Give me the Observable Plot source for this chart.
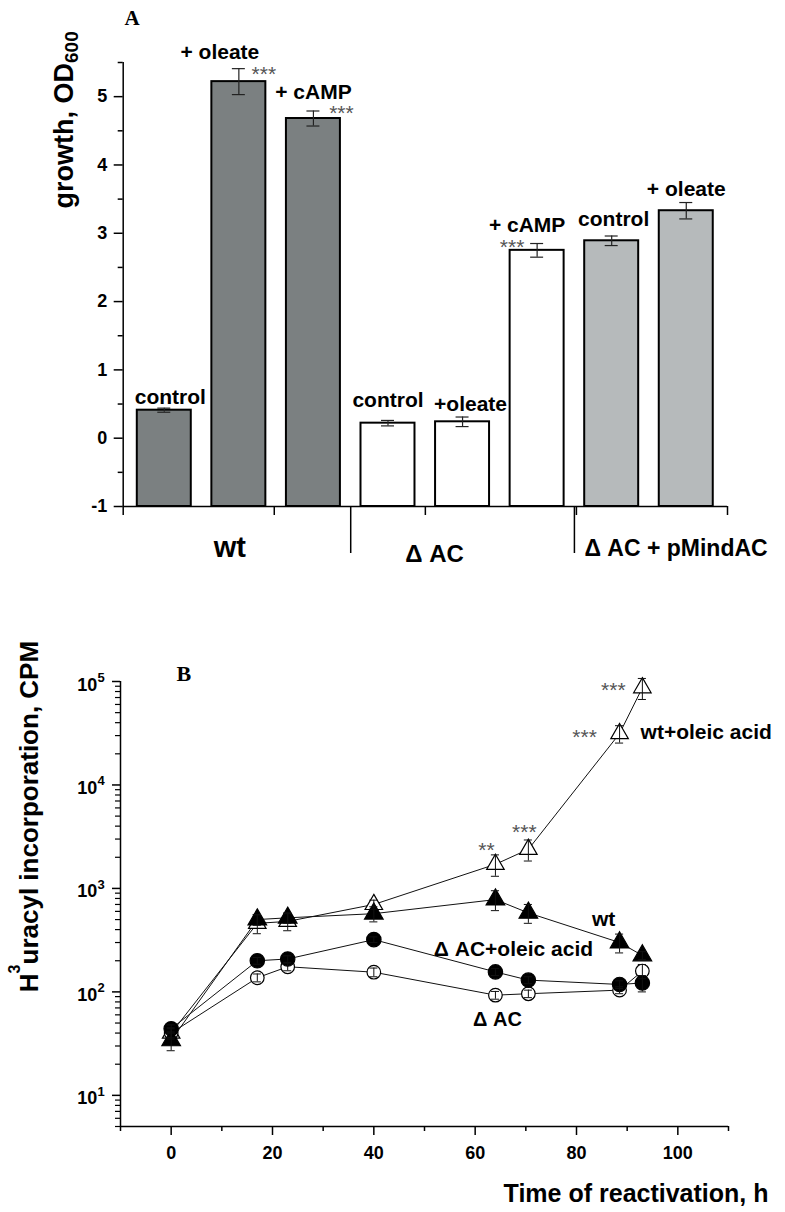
<!DOCTYPE html>
<html><head><meta charset="utf-8">
<script src="https://cdn.jsdelivr.net/npm/d3@7"></script>
<script src="https://cdn.jsdelivr.net/npm/@observablehq/plot@0.6"></script>
<style>
body{margin:0;background:#fff;}
#wrap{position:relative;width:785px;height:1212px;overflow:hidden;}
#a{position:absolute;left:0;top:0;}
#b{position:absolute;left:0;top:590px;}
g[aria-label="stars"] text{letter-spacing:1.5px;}
</style></head><body><div id="wrap"><div id="a"></div><div id="b"></div></div>
<script>
// ---------- Panel A data ----------
const barLabels = ["control", "+ oleate", "+ cAMP", "control", "+oleate", "+ cAMP", "control", "+ oleate"];
const barGroups = ["wt", "wt", "wt", "dAC", "dAC", "dAC", "comp", "comp"];
const barValues = [0.41, 5.22, 4.68, 0.22, 0.24, 2.75, 2.89, 3.33];
const barErrors = [0.03, 0.19, 0.11, 0.04, 0.07, 0.10, 0.07, 0.12];
const barStars = ["", "***", "***", "", "", "***", "", ""];
const groupNames = ["wt", "Δ AC", "Δ AC + pMindAC"];
const yTicksA = [-1, 0, 1, 2, 3, 4, 5];
const yMinorA = [-0.5, 0.5, 1.5, 2.5, 3.5, 4.5, 5.5];

// ---------- Panel B data ----------
const hours = [0, 17, 23, 40, 64, 70.5, 88.5, 93];
const wtVals = [34, 500, 520, 570, 780, 580, 300, 225];
const wtErr = [7, 60, 60, 95, 170, 120, 62, 20];
const wtOleicVals = [40, 460, 480, 700, 1710, 2390, 31400, 87000];
const wtOleicErr = [5, 95, 90, 70, 400, 550, 6000, 20000];
const dacOleicVals = [44, 200, 208, 320, 156, 130, 118, 122];
const dacOleicErr = [4, 15, 15, 20, 12, 10, 10, 22];
const dacVals = [40, 137, 175, 155, 93, 96, 104, 159];
const dacErr = [4, 12, 15, 15, 8, 8, 8, 25];
const wtOleicStars = ["", "", "", "", "**", "***", "***", "***"];
const xTicksB = [0, 20, 40, 60, 80, 100];
const xMinorB = [-10, 10, 30, 50, 70, 90, 110];
const yTicksB = [10, 100, 1000, 10000, 100000];

const FONT = "Liberation Sans, Arial, Helvetica, sans-serif";
const SERIF = "Liberation Serif, Times New Roman, serif";

// ================= Panel A =================
const bars = barValues.map((v, i) => ({i: i + 1, v, e: barErrors[i], label: barLabels[i], stars: barStars[i], group: barGroups[i]}));
const fillOf = {wt: "#7b8081", dAC: "#ffffff", comp: "#b6babb"};
const X0 = 0.449, X1 = 8.553;
const xTicksA = d3.range(5).map(k => X0 + k * (X1 - X0) / 4);
const halfW = 0.362, capA = 0.087;

const labelOff = [[6, -6], [-19, -23], [0, -20], [0, -16], [8, -11], [-10, -18], [2, -15], [0, -15]];
const starOff = {2: [25, -1], 3: [28, 1], 6: [-25, 4]};
const groupPos = [
  {x: 2, dx: -9, dy: 50, size: 29, anchor: "middle"},
  {x: 5, dx: -28, dy: 55, size: 24, anchor: "middle"},
  {x: 6.5, dx: 10, dy: 49, size: 23, anchor: "start"}
];

const txt = {fontFamily: FONT, fontWeight: "bold", fill: "black", lineAnchor: "bottom"};

const marksA = [
  Plot.rect(bars, {x1: d => d.i - halfW, x2: d => d.i + halfW, y1: -1, y2: "v", fill: d => fillOf[d.group], stroke: "black", strokeWidth: 2}),
  Plot.ruleX(bars, {x: "i", y1: d => d.v - d.e, y2: d => d.v + d.e, stroke: "#222", strokeWidth: 1.2}),
  Plot.ruleY(bars, {y: d => d.v + d.e, x1: d => d.i - capA, x2: d => d.i + capA, stroke: "#222", strokeWidth: 1.2}),
  Plot.ruleY(bars, {y: d => d.v - d.e, x1: d => d.i - capA, x2: d => d.i + capA, stroke: "#222", strokeWidth: 1.2}),
  // axes
  Plot.ruleX([X0], {y1: -1, y2: 5.5, stroke: "black", strokeWidth: 1.5}),
  Plot.ruleY([-1], {x1: X0, x2: X1, stroke: "black", strokeWidth: 1.5}),
  Plot.axisY({ticks: yTicksA, tickSize: 9, tickPadding: 7, tickFormat: d => String(d), label: null, fontSize: 18, fontWeight: "bold", fontFamily: FONT, strokeWidth: 1.5}),
  Plot.axisY({ticks: yMinorA, tickSize: 5, tickFormat: () => "", label: null, strokeWidth: 1.5}),
  Plot.axisX({ticks: xTicksA, tickSize: 9, tickFormat: () => "", label: null, strokeWidth: 1.5}),
  Plot.axisX({ticks: [3.5, 6.5], tickSize: 47, tickFormat: () => "", label: null, strokeWidth: 1.5}),
  // bar labels
  ...bars.map((b, k) => Plot.text([b], {x: "i", y: "v", text: "label", dx: labelOff[k][0], dy: labelOff[k][1], fontSize: 21, ...txt})),
  ...bars.filter(b => b.stars).map(b => Plot.text([b], {x: "i", y: "v", text: "stars", dx: starOff[b.i][0], dy: starOff[b.i][1], fontSize: 21, fontFamily: FONT, fill: "#555", lineAnchor: "bottom", ariaLabel: "stars"})),
  // group labels
  ...groupNames.map((g, k) => Plot.text([g], {x: groupPos[k].x, y: -1, text: d => d, dx: groupPos[k].dx, dy: groupPos[k].dy, fontSize: groupPos[k].size, textAnchor: groupPos[k].anchor, ...txt})),
  // y label
  Plot.text(["growth, OD"], {frameAnchor: "top-left", text: d => d, rotate: -90, dx: -50.7, dy: 146, textAnchor: "start", fontSize: 27, ...txt}),
  Plot.text(["600"], {frameAnchor: "top-left", text: d => d, rotate: -90, dx: -45.7, dy: 0.5, textAnchor: "start", fontSize: 19, ...txt}),
  // panel letter
  Plot.text(["A"], {frameAnchor: "top-left", text: d => d, dx: 1.3, dy: -38, textAnchor: "start", fontSize: 21, fontFamily: SERIF, fontWeight: "bold", lineAnchor: "bottom"})
];

const plotA = Plot.plot({
  width: 785, height: 590,
  marginLeft: 122.7, marginRight: 58, marginTop: 62, marginBottom: 84,
  x: {domain: [X0, X1], axis: null},
  y: {domain: [-1, 5.5], axis: null, label: null},
  color: {type: "identity"},
  style: {fontFamily: FONT, color: "black", background: "white", overflow: "visible"},
  marks: marksA
});
document.getElementById("a").appendChild(plotA);

// ================= Panel B =================
const series = [
  {name: "wt+oleic", vals: wtOleicVals, errs: wtOleicErr, symbol: "triangle", fill: "white", r: 6.5},
  {name: "dAC", vals: dacVals, errs: dacErr, symbol: "circle", fill: "white", r: 6.8},
  {name: "wt", vals: wtVals, errs: wtErr, symbol: "triangle", fill: "black", r: 6.9},
  {name: "dAC+oleic", vals: dacOleicVals, errs: dacOleicErr, symbol: "circle", fill: "black", r: 7.2}
];
const rows = series.flatMap(s => hours.map((h, i) => ({series: s.name, x: h, y: s.vals[i], e: s.errs[i], idx: i})));
const capB = 0.8;

const minorB = [];
for (let p = 0; p <= 4; p++) for (let m = 2; m <= 9; m++) { const v = m * 10 ** p; if (v >= 5 && v < 1e5) minorB.push(v); }

const wtOleicRows = rows.filter(r => r.series === "wt+oleic");
const starOffB = {4: [-9, -7], 5: [-4, -10.5], 6: [-35, 10.5], 7: [-29, 9.7]};

const ptLabels = [
  {text: "wt+oleic acid", series: "wt+oleic", idx: 6, dx: 21, dy: 5.5, anchor: "start", size: 21},
  {text: "wt", series: "wt", idx: 6, dx: -16, dy: -17, anchor: "middle", size: 21},
  {text: "Δ AC+oleic acid", series: "dAC+oleic", idx: 4, dx: 18, dy: -16, anchor: "middle", size: 21},
  {text: "Δ AC", series: "dAC", idx: 4, dx: 2, dy: 31, anchor: "middle", size: 20}
];

const marksB = [
  Plot.line(rows, {x: "x", y: "y", z: "series", stroke: "#111", strokeWidth: 1}),
  ...series.map(s => Plot.dot(rows.filter(r => r.series === s.name), {x: "x", y: "y", symbol: s.symbol, r: s.r, fill: s.fill, stroke: "black", strokeWidth: 1.2})),
  Plot.ruleX(rows, {x: "x", y1: d => d.y - d.e, y2: d => d.y + d.e, stroke: "#111", strokeWidth: 1}),
  Plot.ruleY(rows, {y: d => d.y + d.e, x1: d => d.x - capB, x2: d => d.x + capB, stroke: "#111", strokeWidth: 1}),
  Plot.ruleY(rows, {y: d => d.y - d.e, x1: d => d.x - capB, x2: d => d.x + capB, stroke: "#111", strokeWidth: 1}),
  // axes
  Plot.ruleX([-10], {y1: 5, y2: 1e5, stroke: "black", strokeWidth: 1.5}),
  Plot.ruleY([5], {x1: -10, x2: 110, stroke: "black", strokeWidth: 1.5}),
  Plot.axisY({ticks: yTicksB, tickSize: 8, tickFormat: () => "", label: null, strokeWidth: 1.5}),
  Plot.axisY({ticks: minorB, tickSize: 5, tickFormat: () => "", label: null, strokeWidth: 1.2}),
  Plot.axisX({ticks: xTicksB, tickSize: 9, tickPadding: 11, tickFormat: d => String(d), label: null, fontSize: 18, fontWeight: "bold", fontFamily: FONT, strokeWidth: 1.5}),
  Plot.axisX({ticks: xMinorB, tickSize: 5, tickFormat: () => "", label: null, strokeWidth: 1.5}),
  Plot.text(yTicksB, {y: d => d, frameAnchor: "left", text: () => "10", dx: -23.3, dy: 9, textAnchor: "end", fontSize: 18, ...txt}),
  Plot.text(yTicksB, {y: d => d, frameAnchor: "left", text: d => String(Math.round(Math.log10(d))), dx: -23, dy: 0.5, textAnchor: "start", fontSize: 13, ...txt}),
  // stars
  ...wtOleicRows.filter(r => wtOleicStars[r.idx]).map(r => Plot.text([r], {x: "x", y: "y", text: d => wtOleicStars[d.idx], dx: starOffB[r.idx][0], dy: starOffB[r.idx][1], fontSize: 21, fontFamily: FONT, fill: "#555", lineAnchor: "bottom", ariaLabel: "stars"})),
  // series labels
  ...ptLabels.map(l => Plot.text(rows.filter(r => r.series === l.series && r.idx === l.idx), {x: "x", y: "y", text: () => l.text, dx: l.dx, dy: l.dy, textAnchor: l.anchor, fontSize: l.size, ...txt})),
  // axis titles
  Plot.text(["Time of reactivation, h"], {frameAnchor: "bottom-right", text: d => d, dx: 40, dy: 75.7, textAnchor: "end", fontSize: 25, ...txt}),
  Plot.text(["H"], {frameAnchor: "top-left", text: d => d, rotate: -90, dx: -83, dy: 310.7, textAnchor: "start", fontSize: 26, ...txt}),
  Plot.text(["3"], {frameAnchor: "top-left", text: d => d, rotate: -90, dx: -101, dy: 291.9, textAnchor: "start", fontSize: 16, ...txt}),
  Plot.text(["uracyl incorporation, CPM"], {frameAnchor: "top-left", text: d => d, rotate: -90, dx: -83, dy: 283, textAnchor: "start", fontSize: 26, ...txt}),
  Plot.text(["B"], {frameAnchor: "top-left", text: d => d, dx: 56, dy: -1, textAnchor: "start", fontSize: 22, fontFamily: SERIF, fontWeight: "bold", lineAnchor: "bottom"})
];

const plotB = Plot.plot({
  width: 785, height: 622,
  marginLeft: 120, marginRight: 57, marginTop: 91, marginBottom: 86,
  x: {domain: [-10, 110], axis: null},
  y: {type: "log", domain: [5, 100000], axis: null, label: null},
  style: {fontFamily: FONT, color: "black", background: "white", overflow: "visible"},
  marks: marksB
});
document.getElementById("b").appendChild(plotB);
</script>
</body></html>
